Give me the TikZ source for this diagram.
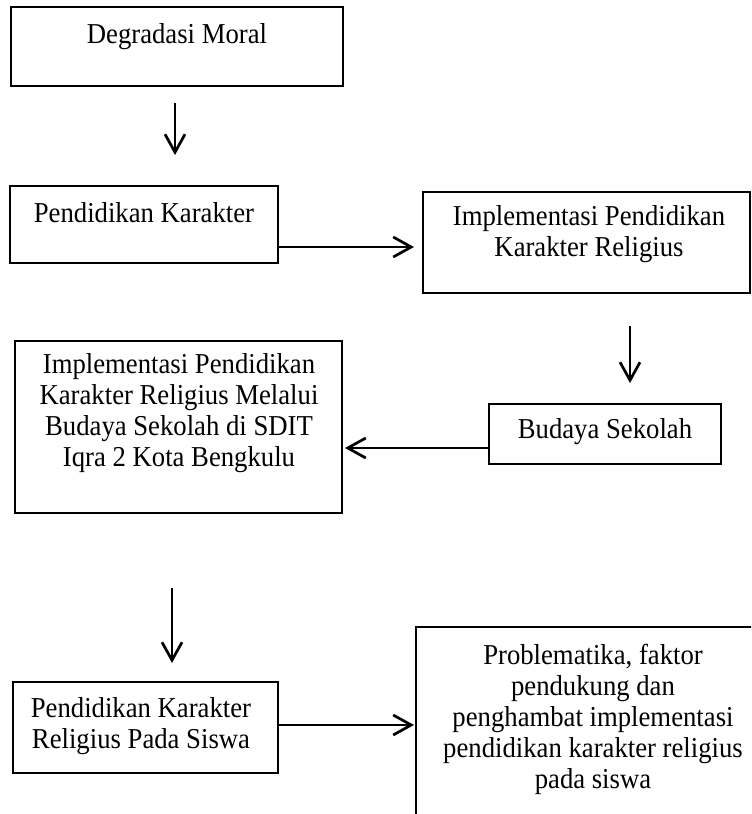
\documentclass[tikz,border=0pt]{standalone}
\usepackage{fontspec}
\usepackage{graphicx}
\setmainfont{Liberation Serif}
\usetikzlibrary{arrows.meta}
\newcommand{\fsz}{\fontsize{13.35pt}{14.45pt}\selectfont}
\newcommand{\lines}[1]{\scalebox{1}[1.08]{\parbox[t]{190pt}{\centering\fsz #1}}}
\tikzset{
  box/.style={draw=black, line width=0.75pt, inner sep=0pt, outer sep=0pt, rectangle},
  txt/.style={inner sep=0pt, outer sep=0pt, anchor=base},
  arr/.style={line width=1.35pt, -{Straight Barb[length=9pt,width=10pt,line width=1.35pt]}}
}
\begin{document}
\begin{tikzpicture}[x=0.5pt,y=-0.5pt]
\useasboundingbox (0,0) rectangle (751,814);
\clip (0,0) rectangle (751,814);
% boxes
\node[box, minimum width=166pt, minimum height=39.5pt] (b1) at (177,46.5) {};
\node[box, minimum width=134pt, minimum height=38.5pt] (b2) at (144,224.5) {};
\node[box, minimum width=163.5pt, minimum height=50.5pt] (b3) at (586.5,242.5) {};
\node[box, minimum width=163.5pt, minimum height=86pt] (b4) at (178.5,427) {};
\node[box, minimum width=116pt, minimum height=30pt] (b5) at (605,434) {};
\node[box, minimum width=132.5pt, minimum height=45.5pt] (b6) at (145.5,727.5) {};
\node[box, minimum width=177pt, minimum height=106.5pt] (b7) at (593,733.5) {};
% texts
\node[txt] (t1) at (177,43) {\lines{Degradasi Moral}};
\node[txt] (t2) at (144,222) {\lines{Pendidikan Karakter}};
\node[txt] (t3) at (589,225) {\lines{Implementasi Pendidikan\\Karakter Religius}};
\node[txt] (t4) at (179,373) {\lines{Implementasi Pendidikan\\Karakter Religius Melalui\\Budaya Sekolah di SDIT\\Iqra 2 Kota Bengkulu}};
\node[txt] (t5) at (605,438) {\lines{Budaya Sekolah}};
\node[txt] (t6) at (141,717) {\lines{Pendidikan Karakter\\Religius Pada Siswa}};
\node[txt] (t7) at (593,664) {\lines{Problematika, faktor\\pendukung dan\\penghambat implementasi\\pendidikan karakter religius\\pada siswa}};
% connectors
\draw[arr, shorten <=8.5pt, shorten >=15.5pt] ([xshift=-1pt]b1.south) -- ([xshift=-1pt]b1.south |- b2.north);
\draw[arr, shorten >=4.5pt] ([yshift=-11.25pt]b2.east) -- ([yshift=-11.25pt]b2.east -| b3.west);
\draw[arr, shorten <=16.5pt, shorten >=10.5pt] ([xshift=21.75pt]b3.south) -- ([xshift=21.75pt]b3.south |- b5.north);
\draw[arr, shorten >=1.5pt] ([yshift=-7pt]b5.west) -- ([yshift=-7pt]b5.west -| b4.east);
\draw[arr, shorten <=37.5pt, shorten >=9.5pt] ([xshift=-3.25pt]b4.south) -- ([xshift=-3.25pt]b4.south |- b6.north);
\draw[arr, shorten >=1pt] ([yshift=1.25pt]b6.east) -- ([yshift=1.25pt]b6.east -| b7.west);
\end{tikzpicture}
\end{document}
